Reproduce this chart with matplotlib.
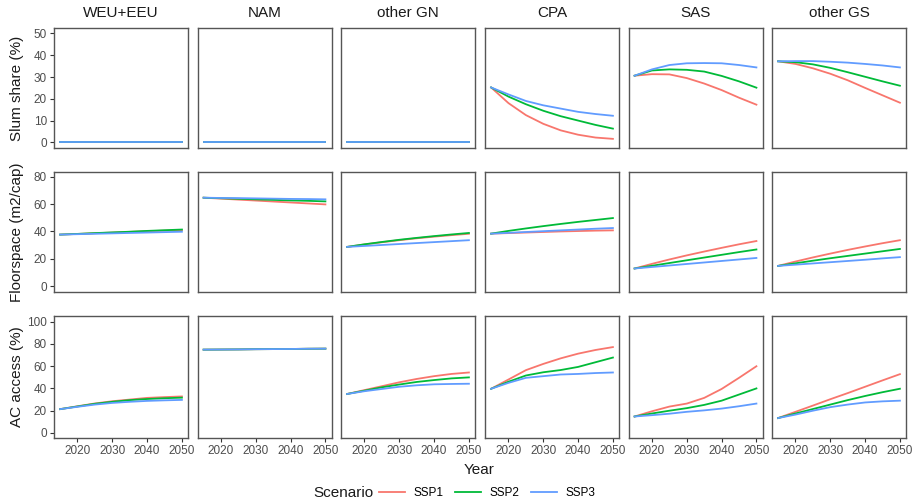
import matplotlib.pyplot as plt

plt.rcParams['font.family'] = ['Liberation Sans', 'DejaVu Sans']

# years on the x axis
years = [2015, 2020, 2025, 2030, 2035, 2040, 2045, 2050]

regions = ['WEU+EEU', 'NAM', 'other GN', 'CPA', 'SAS', 'other GS']
scenarios = ['SSP1', 'SSP2', 'SSP3']
colors = ['#F8766D', '#00BA38', '#619CFF']

# Slum share (%)
slum_ssp1 = {
    'WEU+EEU': [0, 0, 0, 0, 0, 0, 0, 0],
    'NAM': [0, 0, 0, 0, 0, 0, 0, 0],
    'other GN': [0, 0, 0, 0, 0, 0, 0, 0],
    'CPA': [25.2, 18.0, 12.5, 8.5, 5.5, 3.5, 2.2, 1.6],
    'SAS': [30.6, 31.3, 31.2, 29.5, 27.0, 24.0, 20.5, 17.3],
    'other GS': [37.2, 36.0, 34.0, 31.5, 28.5, 25.0, 21.6, 18.2],
}
slum_ssp2 = {
    'WEU+EEU': [0, 0, 0, 0, 0, 0, 0, 0],
    'NAM': [0, 0, 0, 0, 0, 0, 0, 0],
    'other GN': [0, 0, 0, 0, 0, 0, 0, 0],
    'CPA': [25.2, 21.0, 17.5, 14.5, 12.0, 10.0, 8.0, 6.3],
    'SAS': [30.6, 33.0, 33.5, 33.3, 32.5, 30.5, 28.0, 25.1],
    'other GS': [37.2, 36.8, 35.8, 34.2, 32.2, 30.1, 28.0, 26.0],
}
slum_ssp3 = {
    'WEU+EEU': [0, 0, 0, 0, 0, 0, 0, 0],
    'NAM': [0, 0, 0, 0, 0, 0, 0, 0],
    'other GN': [0, 0, 0, 0, 0, 0, 0, 0],
    'CPA': [25.2, 22.0, 19.0, 17.0, 15.5, 14.0, 13.0, 12.2],
    'SAS': [30.6, 33.5, 35.5, 36.3, 36.4, 36.3, 35.5, 34.4],
    'other GS': [37.2, 37.3, 37.3, 37.0, 36.6, 36.0, 35.3, 34.4],
}

# Floorspace (m2/cap)
floor_ssp1 = {
    'WEU+EEU': [37.7, 38.2, 38.7, 39.2, 39.7, 40.2, 40.6, 41.0],
    'NAM': [64.7, 64.0, 63.3, 62.6, 61.9, 61.2, 60.5, 59.8],
    'other GN': [28.7, 30.5, 32.1, 33.6, 35.0, 36.2, 37.3, 38.3],
    'CPA': [38.4, 38.8, 39.2, 39.6, 40.0, 40.3, 40.6, 40.8],
    'SAS': [12.9, 16.3, 19.5, 22.5, 25.3, 28.0, 30.6, 33.0],
    'other GS': [14.8, 18.0, 21.0, 23.8, 26.5, 29.0, 31.4, 33.6],
}
floor_ssp2 = {
    'WEU+EEU': [37.7, 38.2, 38.8, 39.3, 39.8, 40.4, 40.9, 41.4],
    'NAM': [64.7, 64.3, 63.9, 63.5, 63.1, 62.7, 62.4, 62.0],
    'other GN': [28.7, 30.6, 32.3, 33.9, 35.3, 36.6, 37.8, 38.9],
    'CPA': [38.4, 40.4, 42.2, 43.9, 45.5, 47.0, 48.4, 49.8],
    'SAS': [12.9, 14.9, 16.9, 18.9, 20.9, 22.9, 24.9, 26.8],
    'other GS': [14.8, 16.7, 18.6, 20.4, 22.1, 23.8, 25.5, 27.2],
}
floor_ssp3 = {
    'WEU+EEU': [37.7, 38.0, 38.3, 38.6, 38.9, 39.2, 39.5, 39.8],
    'NAM': [64.7, 64.5, 64.4, 64.2, 64.0, 63.8, 63.7, 63.5],
    'other GN': [28.7, 29.4, 30.1, 30.8, 31.5, 32.2, 32.9, 33.6],
    'CPA': [38.4, 39.0, 39.6, 40.2, 40.8, 41.4, 42.0, 42.5],
    'SAS': [12.9, 14.0, 15.1, 16.2, 17.3, 18.4, 19.5, 20.6],
    'other GS': [14.8, 15.7, 16.6, 17.5, 18.4, 19.3, 20.3, 21.2],
}

# AC access (%)
ac_ssp1 = {
    'WEU+EEU': [21.4, 24.0, 26.5, 28.5, 30.0, 31.5, 32.2, 32.8],
    'NAM': [74.8, 74.9, 75.0, 75.2, 75.3, 75.4, 75.6, 75.7],
    'other GN': [35.0, 38.5, 42.0, 45.5, 48.5, 51.0, 53.0, 54.3],
    'CPA': [39.7, 48.0, 56.4, 62.0, 67.0, 71.2, 74.5, 77.1],
    'SAS': [14.8, 19.5, 23.7, 26.4, 31.5, 39.5, 49.5, 59.9],
    'other GS': [13.4, 19.0, 24.6, 30.3, 35.8, 41.5, 47.2, 52.8],
}
ac_ssp2 = {
    'WEU+EEU': [21.4, 23.8, 26.2, 28.0, 29.5, 30.5, 31.2, 31.7],
    'NAM': [74.8, 74.9, 75.0, 75.2, 75.3, 75.4, 75.6, 75.7],
    'other GN': [35.0, 38.0, 41.0, 43.5, 45.8, 47.5, 49.0, 49.9],
    'CPA': [39.7, 46.0, 51.6, 54.5, 56.5, 59.3, 63.5, 67.7],
    'SAS': [14.8, 17.5, 20.0, 22.3, 25.2, 29.0, 34.5, 40.0],
    'other GS': [13.4, 17.5, 21.5, 25.5, 29.5, 33.2, 36.6, 39.7],
}
ac_ssp3 = {
    'WEU+EEU': [21.4, 23.5, 25.5, 27.0, 28.0, 28.8, 29.3, 29.7],
    'NAM': [74.8, 74.9, 75.0, 75.2, 75.3, 75.4, 75.6, 75.7],
    'other GN': [35.0, 37.5, 39.5, 41.5, 42.8, 43.7, 44.0, 44.2],
    'CPA': [39.7, 45.0, 49.5, 51.0, 52.5, 53.0, 53.8, 54.3],
    'SAS': [14.8, 16.0, 17.3, 19.0, 20.3, 21.9, 24.0, 26.4],
    'other GS': [13.4, 16.5, 20.0, 23.2, 25.5, 27.4, 28.4, 29.0],
}

row_labels = ['Slum share (%)', 'Floorspace (m2/cap)', 'AC access (%)']
row_data = [
    [slum_ssp1, slum_ssp2, slum_ssp3],
    [floor_ssp1, floor_ssp2, floor_ssp3],
    [ac_ssp1, ac_ssp2, ac_ssp3],
]
row_ylims = [(-2.6, 52.5), (-4.3, 83.5), (-4.5, 105)]
row_yticks = [[0, 10, 20, 30, 40, 50], [0, 20, 40, 60, 80], [0, 20, 40, 60, 80, 100]]

W, H = 916, 503
fig = plt.figure(figsize=(W / 100, H / 100), dpi=100)

panel_left = [54, 197.5, 341, 485, 628.5, 772]
panel_w = 134
row_top = [28, 172, 316]
row_h = [120, 120, 122]

tick_col = '#4D4D4D'
border_col = '#555555'
text_col = '#1A1A1A'

for r in range(3):
    for c, region in enumerate(regions):
        ax = fig.add_axes([panel_left[c] / W, 1 - (row_top[r] + row_h[r]) / H,
                           panel_w / W, row_h[r] / H])
        for s in range(3):
            ax.plot(years, row_data[r][s][region], color=colors[s], lw=1.3,
                    label=scenarios[s])
        ax.set_xlim(2013.25, 2051.75)
        ax.set_ylim(*row_ylims[r])
        ax.set_xticks([2020, 2030, 2040, 2050])
        ax.set_yticks(row_yticks[r])
        for sp in ax.spines.values():
            sp.set_color(border_col)
            sp.set_linewidth(1.0)
        ax.tick_params(length=3, width=0.8, color='#333333', labelcolor=tick_col,
                       labelsize=8.5, pad=2)
        if r < 2:
            ax.tick_params(axis='x', bottom=False, labelbottom=False)
        if c > 0:
            ax.tick_params(axis='y', left=False, labelleft=False)
        if r == 0:
            fig.text((panel_left[c] + panel_w / 2) / W, 1 - 13 / H, region,
                     ha='center', va='center', fontsize=11, color=text_col)
        if r == 2 and c == 0:
            handles, labels = ax.get_legend_handles_labels()
    fig.text(17 / W, 1 - (row_top[r] + row_h[r] / 2) / H, row_labels[r], rotation=90,
             ha='center', va='center', fontsize=11, color=text_col)

fig.text(479 / W, 1 - 470 / H, 'Year', ha='center', va='center', fontsize=11,
         color=text_col)
fig.text(343 / W, 1 - 493 / H, 'Scenario', ha='center', va='center', fontsize=11,
         color=text_col)
fig.legend(handles, labels, ncol=3, loc='center left', bbox_to_anchor=(379 / W, 1 - 493 / H),
           frameon=False, fontsize=8.5, handlelength=2.2, columnspacing=0.95,
           handletextpad=0.75, borderpad=0, borderaxespad=0)

fig.savefig('out.png', dpi=100)
